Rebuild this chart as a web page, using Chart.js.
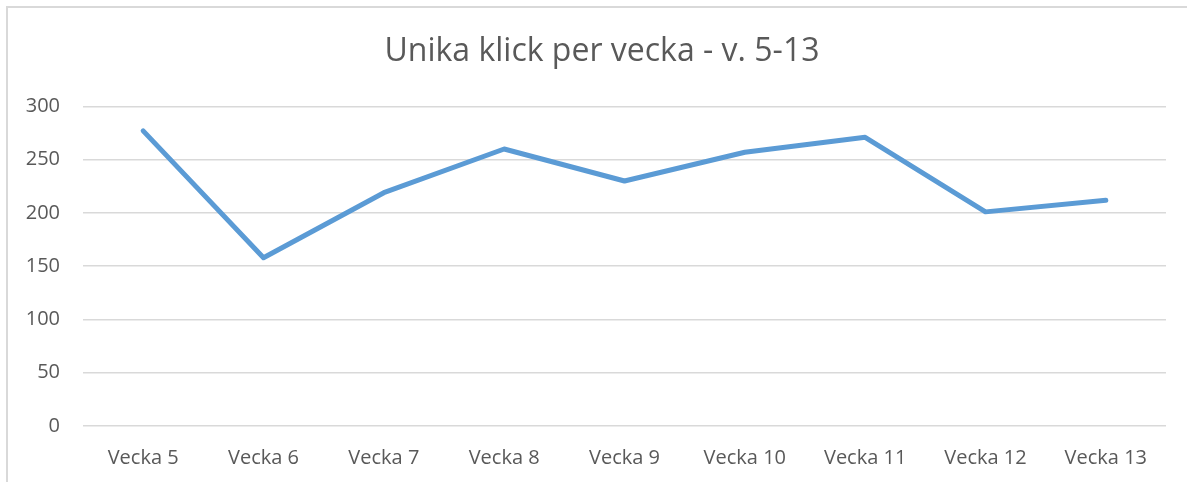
<!DOCTYPE html>
<html>
<head>
<meta charset="utf-8">
<script src="https://cdn.jsdelivr.net/npm/chart.js@4"></script>
<style>
  html, body { margin: 0; padding: 0; background: #fff; }
  #wrap { width: 1187px; height: 482px; position: relative; }
</style>
</head>
<body>
<div id="wrap"><canvas id="chart" width="1187" height="482"></canvas></div>
<script>
const weeks = ["Vecka 5", "Vecka 6", "Vecka 7", "Vecka 8", "Vecka 9", "Vecka 10", "Vecka 11", "Vecka 12", "Vecka 13"];
const uniqueClicks = [277, 158, 219, 260, 230, 257, 271, 201, 212];
const yTicks = [0, 50, 100, 150, 200, 250, 300];

const textColor = "#595959";
const gridColor = "#d9d9d9";

// light frame round the chart, and title centred on the frame rather than the canvas
const framePlugin = {
  id: "frame",
  afterLayout(chart) {
    if (chart.titleBlock) chart.titleBlock.left = 38;
  },
  beforeDraw(chart) {
    const ctx = chart.ctx;
    ctx.save();
    ctx.strokeStyle = gridColor;
    ctx.lineWidth = 2;
    ctx.beginPath();
    ctx.moveTo(7, chart.height + 5);
    ctx.lineTo(7, 7);
    ctx.lineTo(chart.width + 5, 7);
    ctx.stroke();
    ctx.restore();
  }
};

new Chart(document.getElementById("chart"), {
  type: "line",
  data: {
    labels: weeks,
    datasets: [{
      label: "Unika klick",
      data: uniqueClicks,
      borderColor: "#5b9bd5",
      borderWidth: 5,
      borderCapStyle: "round",
      borderJoinStyle: "round",
      pointRadius: 0,
      tension: 0,
      fill: false
    }]
  },
  options: {
    responsive: false,
    animation: false,
    layout: { padding: { left: 0, right: 21, top: 0, bottom: 0 } },
    plugins: {
      legend: { display: false },
      tooltip: { enabled: false },
      title: {
        display: true,
        text: "Unika klick per vecka - v. 5-13",
        color: textColor,
        font: { family: "'Open Sans'", size: 32, weight: "normal" },
        padding: { top: 33, bottom: 35 }
      }
    },
    scales: {
      x: {
        offset: true,
        grid: { display: false, drawTicks: false },
        border: { display: false },
        ticks: {
          color: textColor,
          font: { family: "'Open Sans'", size: 20 },
          padding: 20,
          maxRotation: 0,
          autoSkip: false
        },
        afterFit(scale) { scale.height = 56; }
      },
      y: {
        min: 0,
        max: 300,
        afterBuildTicks(scale) { scale.ticks = yTicks.map(v => ({ value: v })); },
        grid: { color: gridColor, lineWidth: 1.5, drawTicks: false },
        border: { display: false },
        ticks: {
          color: textColor,
          font: { family: "'Open Sans'", size: 20 },
          padding: 23
        },
        afterFit(scale) { scale.width = 83; }
      }
    }
  },
  plugins: [framePlugin]
});
</script>
</body>
</html>
